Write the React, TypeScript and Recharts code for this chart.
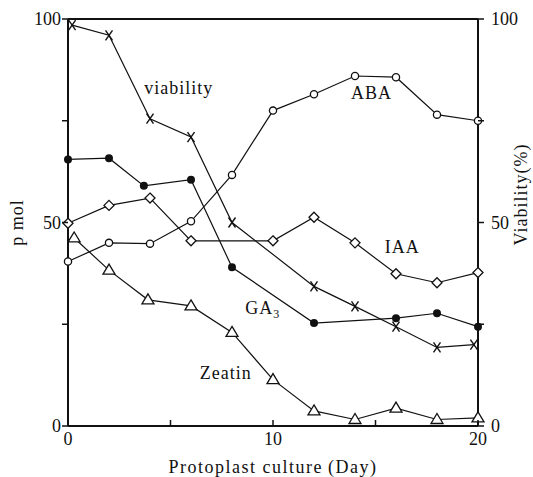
import React from 'react';
import { LineChart, Line, XAxis, YAxis, ReferenceLine, ReferenceDot } from 'recharts';

// days and values
const abaDays = [0, 2, 4, 6, 8, 10, 12, 14, 16, 18, 20];
const abaValues = [40.4, 45, 44.8, 50.3, 61.7, 77.5, 81.5, 86, 85.7, 76.5, 75];

const ga3Days = [0, 2, 3.7, 6, 8, 12, 16, 18, 20];
const ga3Values = [65.5, 65.8, 59, 60.5, 39, 25.3, 26.5, 27.7, 24.4];

const iaaDays = [0, 2, 4, 6, 10, 12, 14, 16, 18, 20];
const iaaValues = [49.8, 54.2, 56, 45.5, 45.5, 51.3, 45, 37.4, 35.2, 37.7];

const zeatinDays = [0.3, 2, 3.9, 6, 8, 10, 12, 14, 16, 18, 20];
const zeatinValues = [46.2, 38.3, 31, 29.5, 23, 11.4, 3.7, 1.6, 4.4, 1.6, 2];

const viabilityDays = [0.2, 2, 4, 6, 8, 12, 14, 16, 18, 19.8];
const viabilityValues = [98.5, 96, 75.5, 71, 50, 34.3, 29.4, 24.4, 19.3, 20];

const xTicks = [0, 5, 10, 15, 20];
const yTicks = [0, 25, 50, 75, 100];

const zip = (days: number[], vals: number[]) => days.map((d, i) => ({ day: d, v: vals[i] }));

const FONT = '"Liberation Serif", "DejaVu Serif", serif';
const INK = '#111';

const OpenCircle = ({ cx, cy }: any) => (
  <circle cx={cx} cy={cy} r={3.6} fill="#fff" stroke={INK} strokeWidth={1.3} />
);
const FilledCircle = ({ cx, cy }: any) => <circle cx={cx} cy={cy} r={4} fill={INK} />;
const Diamond = ({ cx, cy }: any) => (
  <polygon
    points={`${cx},${cy - 5} ${cx + 5},${cy} ${cx},${cy + 5} ${cx - 5},${cy}`}
    fill="#fff"
    stroke={INK}
    strokeWidth={1.3}
  />
);
const Triangle = ({ cx, cy }: any) => (
  <polygon
    points={`${cx},${cy - 6} ${cx + 6},${cy + 4} ${cx - 6},${cy + 4}`}
    fill="#fff"
    stroke={INK}
    strokeWidth={1.3}
  />
);
const Cross = ({ cx, cy }: any) => (
  <g stroke={INK} strokeWidth={1.4}>
    <line x1={cx - 3.5} y1={cy - 5} x2={cx + 3.5} y2={cy + 5} />
    <line x1={cx + 3.5} y1={cy - 5} x2={cx - 3.5} y2={cy + 5} />
  </g>
);

const dotOf = (Shape: any, name: string) => (p: any) => <Shape key={`${name}-${p.index}`} cx={p.cx} cy={p.cy} />;

const textStyle = { fill: INK, fontFamily: FONT, fontSize: 18 };

const XTick = ({ x, y, payload }: any) => (
  <g>
    <line x1={x} y1={y} x2={x} y2={y - 6} stroke={INK} strokeWidth={1.5} />
    {payload.value % 10 === 0 && (
      <text x={x} y={y + 19} textAnchor="middle" style={textStyle}>
        {payload.value}
      </text>
    )}
  </g>
);

const LeftTick = ({ x, y, payload }: any) => (
  <g>
    <line x1={x} y1={y} x2={x - 6} y2={y} stroke={INK} strokeWidth={1.5} />
    {payload.value % 50 === 0 && (
      <text x={x - 7} y={y} dy="0.35em" textAnchor="end" style={textStyle}>
        {payload.value}
      </text>
    )}
  </g>
);

const RightTick = ({ x, y, payload }: any) => (
  <g>
    <line x1={x} y1={y} x2={x + 6} y2={y} stroke={INK} strokeWidth={1.5} />
    {payload.value % 50 === 0 && (
      <text x={x + 13} y={y} dy="0.35em" textAnchor="start" style={textStyle}>
        {payload.value}
      </text>
    )}
  </g>
);

const axisTitle = (text: string, dx: number, shift: number) => ({ viewBox }: any) => {
  const cx = viewBox.x + dx;
  const cy = viewBox.y + viewBox.height / 2 - shift;
  return (
    <text
      x={cx}
      y={cy}
      dy="0.35em"
      textAnchor="middle"
      transform={`rotate(-90 ${cx} ${cy})`}
      style={{ ...textStyle, letterSpacing: 1 }}
    >
      {text}
    </text>
  );
};

const annot = (content: React.ReactNode) => ({ viewBox }: any) => (
  <text
    x={viewBox.x + viewBox.width / 2}
    y={viewBox.y + viewBox.height / 2}
    dy="0.35em"
    textAnchor="middle"
    style={{ ...textStyle, letterSpacing: 1 }}
  >
    {content}
  </text>
);

export default function App() {
  return (
    <div style={{ position: 'absolute', left: 0, top: 0, background: '#fff' }}>
      <LineChart width={533} height={477} margin={{ top: 19, right: 0, bottom: 0, left: 0 }}>
        <XAxis
          dataKey="day"
          type="number"
          domain={[0, 20]}
          ticks={xTicks}
          height={51}
          tickSize={0}
          tickMargin={0}
          tickLine={false}
          tick={<XTick />}
          axisLine={{ stroke: INK, strokeWidth: 2 }}
          allowDuplicatedCategory={false}
          label={{
            value: 'Protoplast culture\u2009(Day)',
            position: 'insideBottom',
            offset: 4,
            style: { ...textStyle, letterSpacing: 1.5 },
          }}
        />
        <YAxis
          yAxisId="left"
          domain={[0, 100]}
          ticks={yTicks}
          width={68}
          tickSize={0}
          tickMargin={0}
          tickLine={false}
          tick={<LeftTick />}
          axisLine={{ stroke: INK, strokeWidth: 2 }}
          label={{ content: axisTitle('p mol', 17, 0) }}
        />
        <YAxis
          yAxisId="right"
          orientation="right"
          domain={[0, 100]}
          ticks={yTicks}
          width={55}
          tickSize={0}
          tickMargin={0}
          tickLine={false}
          tick={<RightTick />}
          axisLine={{ stroke: INK, strokeWidth: 2 }}
          label={{ content: axisTitle('Viability(%)', 43, 28) }}
        />
        <ReferenceLine yAxisId="left" y={100} stroke={INK} strokeWidth={2} />

        <Line yAxisId="left" data={zip(abaDays, abaValues)} dataKey="v" stroke={INK} strokeWidth={1.2}
          dot={dotOf(OpenCircle, 'aba')} isAnimationActive={false} />
        <Line yAxisId="left" data={zip(ga3Days, ga3Values)} dataKey="v" stroke={INK} strokeWidth={1.2}
          dot={dotOf(FilledCircle, 'ga3')} isAnimationActive={false} />
        <Line yAxisId="left" data={zip(iaaDays, iaaValues)} dataKey="v" stroke={INK} strokeWidth={1.2}
          dot={dotOf(Diamond, 'iaa')} isAnimationActive={false} />
        <Line yAxisId="left" data={zip(zeatinDays, zeatinValues)} dataKey="v" stroke={INK} strokeWidth={1.2}
          dot={dotOf(Triangle, 'zea')} isAnimationActive={false} />
        <Line yAxisId="right" data={zip(viabilityDays, viabilityValues)} dataKey="v" stroke={INK} strokeWidth={1.2}
          dot={dotOf(Cross, 'via')} isAnimationActive={false} />

        <ReferenceDot yAxisId="left" x={5.4} y={83} r={0} label={{ content: annot('viability') }} />
        <ReferenceDot yAxisId="left" x={14.8} y={82} r={0} label={{ content: annot('ABA') }} />
        <ReferenceDot yAxisId="left" x={16.3} y={44} r={0} label={{ content: annot('IAA') }} />
        <ReferenceDot
          yAxisId="left"
          x={9.5}
          y={29}
          r={0}
          label={{ content: annot(<>GA<tspan fontSize={12} dy={4}>3</tspan></>) }}
        />
        <ReferenceDot yAxisId="left" x={7.7} y={13} r={0} label={{ content: annot('Zeatin') }} />
      </LineChart>
    </div>
  );
}
